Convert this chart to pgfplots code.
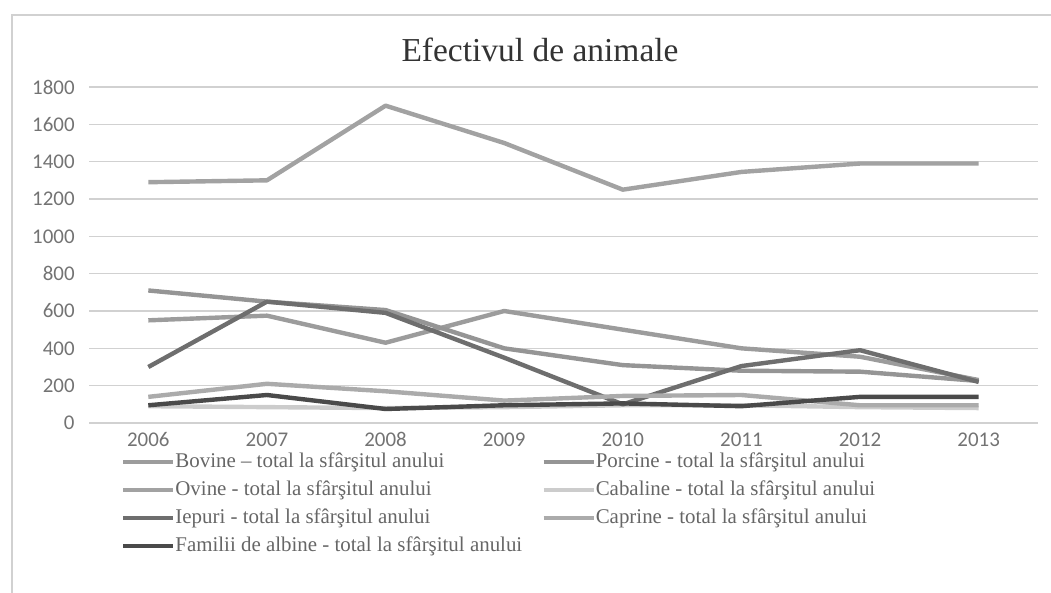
\documentclass[border=0pt]{standalone}
\usepackage{pgfplots}
\pgfplotsset{compat=1.18}
\usepackage{fontspec}
\setmainfont{Liberation Serif}
\newfontfamily\tickfont{Carlito}
\definecolor{cBov}{HTML}{9C9C9C}
\definecolor{cPor}{HTML}{959595}
\definecolor{cOvi}{HTML}{A2A2A2}
\definecolor{cCab}{HTML}{CCCCCC}
\definecolor{cIep}{HTML}{6E6E6E}
\definecolor{cCap}{HTML}{ABABAB}
\definecolor{cFam}{HTML}{4A4A4A}
\begin{document}
\begin{tikzpicture}
\path[use as bounding box] (0,0) rectangle (525.5bp,296.5bp);
\draw[black!18, line width=0.8bp] (6bp,0) -- (6bp,289bp) -- (525.5bp,289bp);
\node[font=\fontsize{16.8}{19}\selectfont, text=black!80] at (270bp,271.5bp) {Efectivul de animale};
\begin{axis}[
  at={(44.5bp,85bp)}, anchor=south west,
  width=474.5bp, height=168bp, scale only axis,
  xmin=-0.5, xmax=7.5, ymin=0, ymax=1800,
  xtick={0,1,2,3,4,5,6,7},
  xticklabels={2006,2007,2008,2009,2010,2011,2012,2013},
  ytick={0,200,400,600,800,1000,1200,1400,1600,1800},
  ymajorgrids, grid style={black!18, line width=0.6bp},
  axis line style={draw=none},
  tick style={draw=none},
  /pgf/number format/assume math mode=true,
  /pgf/number format/1000 sep={},
  scaled y ticks=false,
  tick label style={font=\tickfont\fontsize{10.5}{12}\selectfont, text=black!55},
  yticklabel style={anchor=east, inner sep=0pt, xshift=-7bp},
  xticklabel style={anchor=north, inner sep=0pt, text height=7bp, text depth=0pt, yshift=-4.5bp},
  legend columns=2,
  legend image code/.code={\draw[#1] (0bp,0bp) -- (25bp,0bp);},
  legend style={at={(axis description cs:0.0337,-0.0893)}, anchor=north west,
    draw=none, fill=none, inner sep=0pt, outer sep=0pt,
    font=\fontsize{10.5}{12}\selectfont, text=black!60,
    row sep=5bp,
    nodes={inner sep=0pt, text height=7bp, text depth=2bp},
    /tikz/every odd column/.style={column sep=0pt},
    /tikz/every even column/.style={column sep=0bp}},
  legend cell align=left,
  every axis plot/.append style={line width=2.2bp, line join=round},
]
\addplot[cBov] coordinates {(0,550) (1,575) (2,430) (3,600) (4,500) (5,400) (6,355) (7,230)};
\addlegendentry{\makebox[183bp][l]{Bovine – total la sfârşitul anului}}
\addplot[cPor] coordinates {(0,710) (1,650) (2,605) (3,400) (4,310) (5,280) (6,275) (7,225)};
\addlegendentry{Porcine - total la sfârşitul anului}
\addplot[cOvi] coordinates {(0,1290) (1,1300) (2,1700) (3,1500) (4,1250) (5,1345) (6,1390) (7,1390)};
\addlegendentry{\makebox[183bp][l]{Ovine - total la sfârşitul anului}}
\addplot[cCab] coordinates {(0,90) (1,85) (2,80) (3,85) (4,95) (5,95) (6,85) (7,80)};
\addlegendentry{Cabaline - total la sfârşitul anului}
\addplot[cIep] coordinates {(0,300) (1,650) (2,590) (3,350) (4,100) (5,305) (6,390) (7,220)};
\addlegendentry{\makebox[183bp][l]{Iepuri - total la sfârşitul anului}}
\addplot[cCap] coordinates {(0,140) (1,210) (2,170) (3,120) (4,145) (5,150) (6,95) (7,95)};
\addlegendentry{Caprine - total la sfârşitul anului}
\addplot[cFam] coordinates {(0,95) (1,150) (2,75) (3,95) (4,105) (5,90) (6,140) (7,140)};
\addlegendentry{\makebox[183bp][l]{Familii de albine - total la sfârşitul anului}}
\end{axis}
\end{tikzpicture}
\end{document}
